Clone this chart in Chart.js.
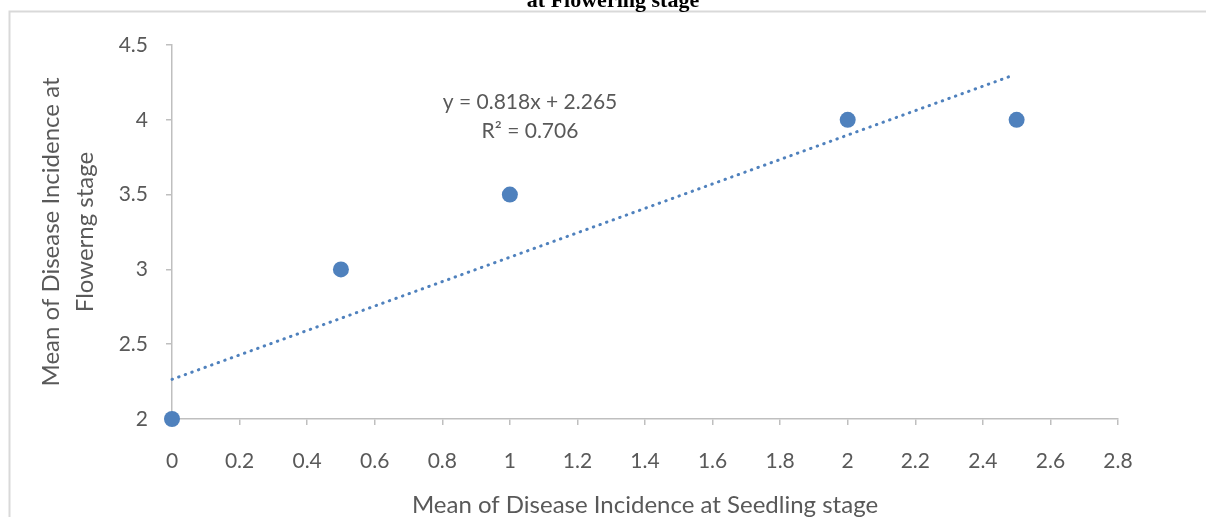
<!DOCTYPE html>
<html lang="en">
<head>
<meta charset="UTF-8" />
<title>Disease incidence scatter</title>
<script src="https://cdn.jsdelivr.net/npm/chart.js@4"></script>
<style>
  html, body { margin: 0; padding: 0; background: #fff; }
  #wrap { width: 1206px; height: 517px; }
</style>
</head>
<body>
<div id="wrap"><canvas id="scatter"></canvas></div>
<script>
const seedling = [0, 0.5, 1, 2, 2.5];
const flowering = [2, 3, 3.5, 4, 4];
const trendX = [0, 2.48];
const trendY = [2.265, 4.29];
const equationLines = ["y = 0.818x + 2.265", "R² = 0.706"];

const grey = "#595959";
const axisGrey = "#bfbfbf";
const blue = "#4f81bd";

const plainNum = (v) => String(Math.round(v * 10) / 10);

// frame, the cut-off title and the trendline label
const decor = {
  id: "decor",
  beforeDraw(chart) {
    const c = chart.ctx;
    c.save();
    c.strokeStyle = "#d9d9d9";
    c.lineWidth = 2;
    c.beginPath();
    c.moveTo(9.5, 517);
    c.lineTo(9.5, 11.5);
    c.lineTo(1206, 11.5);
    c.stroke();
    c.fillStyle = "#000";
    c.font = "bold 22px 'Liberation Serif'";
    c.textAlign = "center";
    c.textBaseline = "alphabetic";
    c.fillText("at Flowering stage", 613, 7);
    c.restore();
  },
  afterDatasetsDraw(chart) {
    const c = chart.ctx;
    c.save();
    c.fillStyle = grey;
    c.font = "21px Lato";
    c.textAlign = "center";
    c.textBaseline = "middle";
    c.fillText(equationLines[0], 530, 102);
    c.fillText(equationLines[1], 530, 131);
    c.restore();
  }
};

new Chart(document.getElementById("scatter"), {
  type: "scatter",
  data: {
    datasets: [
      {
        label: "Trend",
        type: "line",
        data: trendX.map((x, i) => ({ x, y: trendY[i] })),
        borderColor: blue,
        borderWidth: 3,
        borderDash: [0.5, 6.5],
        borderCapStyle: "round",
        pointRadius: 0,
        fill: false,
        clip: false
      },
      {
        label: "Mean",
        data: seedling.map((x, i) => ({ x, y: flowering[i] })),
        backgroundColor: blue,
        borderWidth: 0,
        pointRadius: 8,
        pointHoverRadius: 8,
        clip: false
      }
    ]
  },
  options: {
    responsive: true,
    maintainAspectRatio: false,
    animation: false,
    layout: { padding: { left: 0, right: 88, top: 45, bottom: 0 } },
    plugins: {
      legend: { display: false },
      tooltip: { enabled: false }
    },
    scales: {
      x: {
        type: "linear",
        min: 0,
        max: 2.8,
        ticks: { stepSize: 0.2, color: grey, font: { family: "Lato", size: 21 }, padding: 24, callback: plainNum },
        grid: { drawOnChartArea: false, color: axisGrey, tickLength: 6, lineWidth: 1.5 },
        border: { color: axisGrey, width: 1.5 },
        title: {
          display: true,
          text: "Mean of Disease Incidence at Seedling stage",
          color: grey,
          font: { family: "Lato", size: 24, lineHeight: 1 },
          padding: { top: 0, bottom: 0 }
        },
        afterFit(s) { s.height = 98; }
      },
      y: {
        type: "linear",
        min: 2,
        max: 4.5,
        ticks: { stepSize: 0.5, color: grey, font: { family: "Lato", size: 21 }, padding: 18, callback: plainNum },
        grid: { drawOnChartArea: false, color: axisGrey, tickLength: 6, lineWidth: 1.5 },
        border: { color: axisGrey, width: 1.5 },
        title: {
          display: true,
          text: ["Mean of Disease Incidence at", "Flowerng stage"],
          color: grey,
          font: { family: "Lato", size: 24, lineHeight: 1.42 },
          padding: { top: 34, bottom: 0 }
        },
        afterFit(s) { s.width = 172; }
      }
    }
  },
  plugins: [decor]
});
</script>
</body>
</html>
